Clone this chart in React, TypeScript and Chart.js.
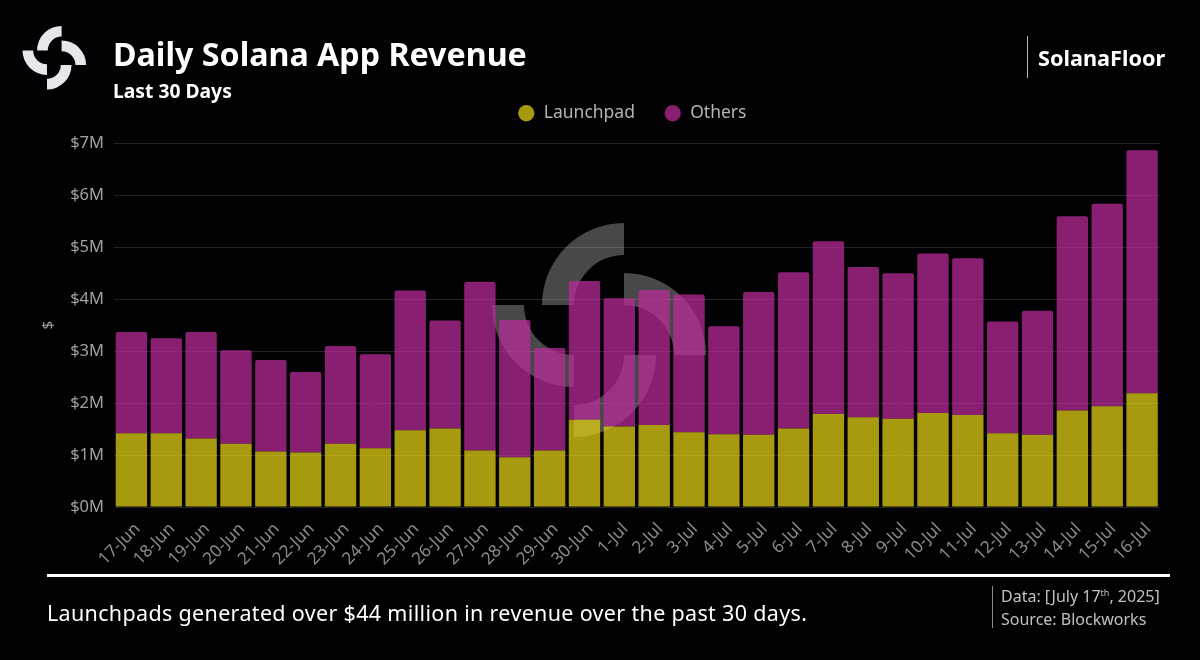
import { useEffect, useRef } from 'react';
import Chart from 'chart.js/auto';

const days = [
  '17-Jun', '18-Jun', '19-Jun', '20-Jun', '21-Jun', '22-Jun', '23-Jun', '24-Jun', '25-Jun', '26-Jun',
  '27-Jun', '28-Jun', '29-Jun', '30-Jun', '1-Jul', '2-Jul', '3-Jul', '4-Jul', '5-Jul', '6-Jul',
  '7-Jul', '8-Jul', '9-Jul', '10-Jul', '11-Jul', '12-Jul', '13-Jul', '14-Jul', '15-Jul', '16-Jul',
];

const launchpad = [
  1.42, 1.42, 1.32, 1.22, 1.07, 1.05, 1.22, 1.13, 1.48, 1.51,
  1.09, 0.96, 1.09, 1.68, 1.55, 1.58, 1.44, 1.4, 1.39, 1.51,
  1.79, 1.73, 1.7, 1.81, 1.77, 1.42, 1.39, 1.86, 1.94, 2.19,
];

const others = [
  1.95, 1.83, 2.05, 1.8, 1.76, 1.55, 1.88, 1.81, 2.69, 2.08,
  3.25, 2.64, 1.97, 2.67, 2.47, 2.6, 2.65, 2.08, 2.75, 3.01,
  3.33, 2.89, 2.8, 3.07, 3.02, 2.15, 2.39, 3.74, 3.9, 4.68,
];

const FONT = '"Noto Sans", sans-serif';

// four quarter rings, the same mark for the logo and the watermark
function drawMark(ctx: CanvasRenderingContext2D, x: number, y: number, gap: number, R: number, r: number, color: string) {
  const parts = [
    [x + gap, y - gap, Math.PI, Math.PI * 1.5],
    [x + gap, y + gap, Math.PI * 1.5, Math.PI * 2],
    [x - gap, y + gap, 0, Math.PI * 0.5],
    [x - gap, y - gap, Math.PI * 0.5, Math.PI],
  ];
  ctx.save();
  ctx.fillStyle = color;
  parts.forEach(([cx, cy, a, b]) => {
    ctx.beginPath();
    ctx.arc(cx, cy, R, a, b);
    ctx.arc(cx, cy, r, b, a, true);
    ctx.closePath();
    ctx.fill();
  });
  ctx.restore();
}

const marks = {
  id: 'marks',
  beforeDatasetsDraw(chart: Chart) {
    drawMark(chart.ctx, 599, 330, 25, 82, 50, 'rgba(255,255,255,0.28)');
  },
  afterDraw(chart: Chart) {
    drawMark(chart.ctx, 54.3, 57.7, 7.3, 24.5, 13.8, '#e8e6ea');
  },
};

// the legend sits centred over the plot and a bit above where layout puts it
const legendShift = {
  id: 'legendShift',
  afterLayout(chart: Chart) {
    if (!chart.legend) return;
    chart.legend.left = 104.5;
    chart.legend.top = 75.5;
  },
};

const textStyle = (left: number, top: number, size: number, weight: number, color: string) => ({
  position: 'absolute' as const,
  left,
  top,
  fontSize: size,
  fontWeight: weight,
  color,
  lineHeight: 1,
  whiteSpace: 'nowrap' as const,
});

export default function App() {
  const canvasRef = useRef<HTMLCanvasElement>(null);

  useEffect(() => {
    if (!canvasRef.current) return;

    const chart = new Chart(canvasRef.current, {
      type: 'bar',
      data: {
        labels: days,
        datasets: [
          { label: 'Launchpad', data: launchpad, backgroundColor: 'rgba(233,214,20,0.72)', borderRadius: 1 },
          { label: 'Others', data: others, backgroundColor: 'rgba(189,43,155,0.72)', borderRadius: 2 },
        ],
      },
      options: {
        animation: false,
        responsive: false,
        maintainAspectRatio: false,
        layout: { padding: { left: 30, right: 40.5, top: 87, bottom: 93 } },
        datasets: { bar: { categoryPercentage: 0.9, barPercentage: 1 } },
        plugins: {
          tooltip: { enabled: false },
          legend: {
            position: 'top',
            labels: {
              usePointStyle: true,
              pointStyle: 'circle',
              boxHeight: 11.5,
              padding: 29,
              color: '#b4b4b4',
              font: { family: FONT, size: 17.5 },
            },
          },
        },
        scales: {
          x: {
            stacked: true,
            grid: { display: false },
            border: { display: false },
            afterFit: (scale: any) => { scale.height = 60; },
            ticks: {
              color: '#8c8c8c',
              minRotation: 45,
              maxRotation: 45,
              autoSkip: false,
              padding: 4,
              labelOffset: 6,
              font: { family: FONT, size: 17 },
            },
          },
          y: {
            stacked: true,
            min: 0,
            max: 7,
            afterFit: (scale: any) => { scale.width = 84; },
            grid: { color: '#232325', drawTicks: false },
            border: { display: false },
            title: { display: true, text: '$', color: '#a0a0a0', font: { family: FONT, size: 15 }, padding: { top: 10, bottom: 0 } },
            ticks: {
              stepSize: 1,
              color: '#a0a0a0',
              padding: 10,
              callback: (v: any) => `$${v}M`,
              font: { family: FONT, size: 16.5 },
            },
          },
        },
      },
      plugins: [marks, legendShift],
    });

    return () => chart.destroy();
  }, []);

  return (
    <div style={{ position: 'relative', width: 1200, height: 660, background: '#020204', overflow: 'hidden', fontFamily: FONT }}>
      <style>{'body{margin:0;background:#020204}'}</style>
      <canvas ref={canvasRef} width={1200} height={660} style={{ position: 'absolute', left: 0, top: 0 }} />

      <div style={textStyle(113, 38, 32.2, 700, '#ffffff')}>Daily Solana App Revenue</div>
      <div style={textStyle(113, 81, 19.3, 700, '#ffffff')}>Last 30 Days</div>

      <div style={{ position: 'absolute', left: 1027, top: 36, width: 1, height: 42, background: '#b8b8b8' }} />
      <div style={textStyle(1038, 47, 21.7, 700, '#ffffff')}>SolanaFloor</div>

      <div style={{ position: 'absolute', left: 47, top: 574, width: 1123, height: 3, background: '#ffffff' }} />
      <div style={{ ...textStyle(47, 602, 21.5, 400, '#ffffff'), letterSpacing: 0.33 }}>Launchpads generated over $44 million in revenue over the past 30 days.</div>

      <div style={{ position: 'absolute', left: 992, top: 586, width: 1, height: 42, background: '#8c8c8c' }} />
      <div style={textStyle(1001, 588, 16, 400, '#c0c0c0')}>
        Data: [July 17<sup style={{ fontSize: 9, lineHeight: 0 }}>th</sup>, 2025]
      </div>
      <div style={textStyle(1001, 611, 16, 400, '#c0c0c0')}>Source: Blockworks</div>
    </div>
  );
}
